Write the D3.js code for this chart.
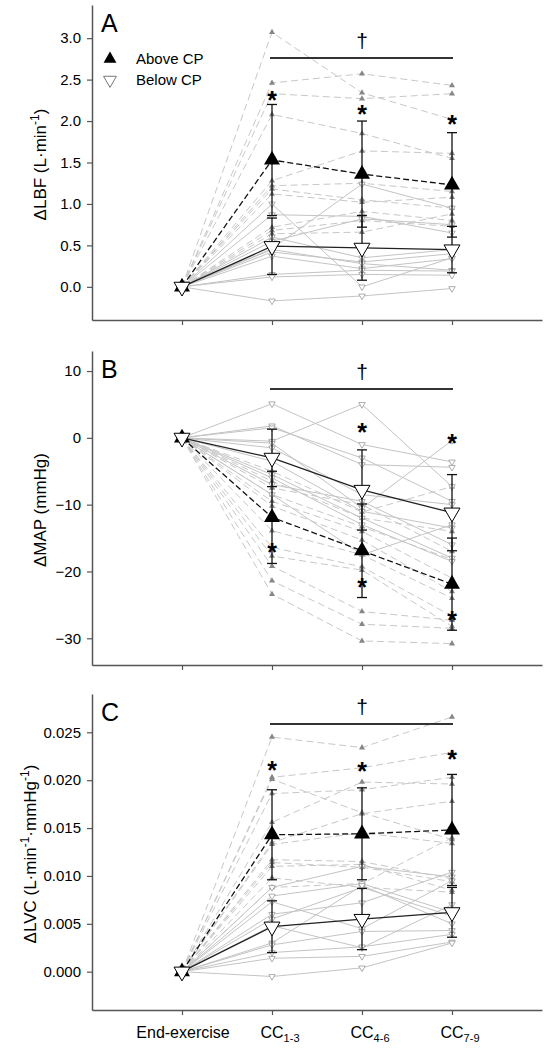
<!DOCTYPE html>
<html><head><meta charset="utf-8">
<script src="https://cdn.jsdelivr.net/npm/d3@7"></script>
<style>body{margin:0;background:#fff}svg{display:block}text{font-family:"Liberation Sans",Arial,sans-serif;fill:#000}</style>
</head><body><svg id="c" width="552" height="1050"></svg>
<script>
// ---------- data ----------
const categories = ["End-exercise", "CC", "CC", "CC"];
const categorySubs = ["", "1-3", "4-6", "7-9"];

// Panel A: ΔLBF
const lbfTicks = [0, 0.5, 1.0, 1.5, 2.0, 2.5, 3.0];
const lbfAboveMean = [0, 1.53, 1.36, 1.23];
const lbfAboveSD = [0, 0.67, 0.64, 0.63];
const lbfBelowMean = [0, 0.49, 0.47, 0.45];
const lbfBelowSD = [0, 0.34, 0.39, 0.28];
const lbfAbove = [
  [0, 3.07, 2.34, 2.02], [0, 2.46, 2.57, 2.43], [0, 2.33, 2.27, 2.33],
  [0, 2.08, 1.85, 1.55], [0, 1.28, 1.64, 1.61], [0, 1.22, 1.25, 1.15],
  [0, 1.18, 1.05, 0.95], [0, 1.12, 1.02, 1.08], [0, 0.72, 0.91, 0.80],
  [0, 0.68, 0.80, 0.73], [0, 0.64, 0.66, 0.88]
];
const lbfBelow = [
  [0, 1.00, 0.00, 0.35], [0, 0.46, 1.24, 0.95], [0, 0.87, 0.85, 0.65],
  [0, 0.55, 0.82, 0.75], [0, 0.60, 0.35, 0.45], [0, 0.42, 0.30, 0.40],
  [0, 0.45, 0.28, 0.20], [0, 0.37, 0.22, 0.34], [0, 0.15, 0.20, 0.19],
  [0, 0.12, 0.15, 0.14], [0, -0.17, -0.11, -0.02]
];
const lbfStars = [[1, 2.32], [2, 2.15], [3, 2.02]];

// Panel B: ΔMAP
const mapTicks = [-30, -20, -10, 0, 10];
const mapAboveMean = [0, -11.9, -16.9, -21.9];
const mapAboveSD = [0, 6.9, 7.0, 6.9];
const mapBelowMean = [0, -3.0, -7.8, -11.2];
const mapBelowSD = [0, 4.3, 6.0, 5.7];
const mapAbove = [
  [0, -5.0, -11.1, -7.3], [0, -6.5, -12.0, -14.0], [0, -7.5, -10.0, -17.0],
  [0, -8.5, -13.3, -18.2], [0, -9.5, -14.0, -21.0], [0, -10.2, -15.3, -23.0],
  [0, -13.9, -17.5, -24.0], [0, -16.4, -19.3, -26.7], [0, -17.7, -19.8, -28.2],
  [0, -19.2, -26.0, -27.3], [0, -21.4, -27.9, -28.5], [0, -23.4, -30.4, -30.8]
];
const mapBelow = [
  [0, 5.1, -1.0, -3.6], [0, -0.5, 5.0, -7.3], [0, 1.8, -4.0, -4.4],
  [0, 1.5, -3.0, -9.5], [0, -0.8, -10.5, -0.4], [0, -1.5, -8.5, -10.0],
  [0, -3.5, -11.0, -13.5], [0, -5.5, -12.0, -18.0], [0, -6.0, -13.0, -18.5],
  [0, -7.0, -9.5, -16.0], [0, -8.5, -17.5, -13.0]
];
const mapStars = [[1, -16.3], [2, 1.6], [2, -21.6], [3, 0.0], [3, -26.5]];

// Panel C: ΔLVC
const lvcTicks = [0, 0.005, 0.010, 0.015, 0.020, 0.025];
const lvcAboveMean = [0, 0.0143, 0.0144, 0.0148];
const lvcAboveSD = [0, 0.0047, 0.0048, 0.0058];
const lvcBelowMean = [0, 0.0047, 0.0055, 0.0062];
const lvcBelowSD = [0, 0.0027, 0.0032, 0.0026];
const lvcAbove = [
  [0, 0.0245, 0.0234, 0.0266], [0, 0.0203, 0.0213, 0.0229], [0, 0.0201, 0.0166, 0.0138],
  [0, 0.0186, 0.0190, 0.0203], [0, 0.0156, 0.0198, 0.0196], [0, 0.0135, 0.0165, 0.0178],
  [0, 0.0133, 0.0145, 0.0134], [0, 0.0117, 0.0115, 0.0097], [0, 0.0114, 0.0109, 0.0094],
  [0, 0.0110, 0.0112, 0.0085], [0, 0.0098, 0.0088, 0.0083], [0, 0.0088, 0.0092, 0.0140]
];
const lvcBelow = [
  [0, 0.0088, 0.0110, 0.0099], [0, 0.0079, 0.0092, 0.0062], [0, 0.0073, 0.0045, 0.0095],
  [0, 0.0060, 0.0072, 0.0104], [0, 0.0055, 0.0088, 0.0058], [0, 0.0048, 0.0025, 0.0070],
  [0, 0.0030, 0.0090, 0.0050], [0, 0.0028, 0.0042, 0.0043], [0, 0.0020, 0.0026, 0.0039],
  [0, 0.0014, 0.0016, 0.0031], [0, -0.0005, 0.0004, 0.0030]
];
const lvcStars = [[1, 0.0216], [2, 0.0215], [3, 0.0227]];

const legendLabels = ["Above CP", "Below CP"];

// ---------- drawing ----------
const svg = d3.select("#c");
const x = d3.scaleLinear().domain([-1, 4]).range([92, 542]);
const AX = "#555";

const panels = [
  {letter: "A", top: 5, bottom: 320, barY: 58, domain: [-0.4, 3.4], ticks: lbfTicks, fmt: d3.format(".1f"),
   above: lbfAbove, below: lbfBelow, am: lbfAboveMean, asd: lbfAboveSD, bm: lbfBelowMean, bsd: lbfBelowSD,
   stars: lbfStars, title: [["ΔLBF (L·min", 0], ["-1", 1], [")", 0]], titleX: 46, legend: true, xLabels: false},
  {letter: "B", top: 351, bottom: 665, barY: 389, domain: [-34, 13], ticks: mapTicks, fmt: d3.format("d"),
   above: mapAbove, below: mapBelow, am: mapAboveMean, asd: mapAboveSD, bm: mapBelowMean, bsd: mapBelowSD,
   stars: mapStars, title: [["ΔMAP (mmHg)", 0]], titleX: 46, legend: false, xLabels: false},
  {letter: "C", top: 694, bottom: 1010, barY: 724, domain: [-0.004, 0.029], ticks: lvcTicks, fmt: d3.format(".3f"),
   above: lvcAbove, below: lvcBelow, am: lvcAboveMean, asd: lvcAboveSD, bm: lvcBelowMean, bsd: lvcBelowSD,
   stars: lvcStars, title: [["ΔLVC (L·min", 0], ["-1", 1], ["·mmHg", 0], ["-1", 1], [")", 0]], titleX: 36, legend: false, xLabels: true}
];

const tri = (s) => d3.symbol(d3.symbolTriangle, s)();

panels.forEach(p => {
  const y = d3.scaleLinear().domain(p.domain).range([p.bottom, p.top]);
  const g = svg.append("g");

  // axes
  const ya = g.append("g").attr("transform", `translate(${x(-1)},0)`)
    .call(d3.axisLeft(y).tickValues(p.ticks).tickFormat(p.fmt).tickSize(5).tickSizeOuter(0).tickPadding(6));
  ya.select(".domain").attr("stroke", AX).attr("stroke-width", 1.5);
  ya.selectAll(".tick line").attr("stroke", AX).attr("stroke-width", 1.2);
  ya.selectAll(".tick text").attr("font-size", 15).attr("font-family", "Liberation Sans, Arial, sans-serif").attr("fill", "#000");

  const xa = g.append("g").attr("transform", `translate(0,${p.bottom})`)
    .call(d3.axisBottom(x).tickValues([0, 1, 2, 3]).tickSize(5).tickSizeOuter(0).tickFormat(""));
  xa.select(".domain").attr("stroke", AX).attr("stroke-width", 1.5);
  xa.selectAll(".tick line").attr("stroke", AX).attr("stroke-width", 1.2);

  if (p.xLabels) {
    categories.forEach((c, i) => {
      if (i === 0) {
        g.append("text").attr("x", x(i) + 1).attr("y", 1038).attr("text-anchor", "middle")
          .attr("font-size", 16).text(c);
      } else {
        const t = g.append("text").attr("x", x(i) - 11.5).attr("y", 1038).attr("font-size", 16);
        t.append("tspan").text(c);
        t.append("tspan").attr("font-size", 11).attr("dy", 4).text(categorySubs[i]);
      }
    });
  }

  // y title
  const cy = (p.top + p.bottom) / 2 + 2;
  const tt = g.append("text").attr("transform", `translate(${p.titleX},${cy}) rotate(-90)`)
    .attr("text-anchor", "middle").attr("font-size", 17);
  let prevSup = 0;
  p.title.forEach(([s, sup]) => {
    const ts = tt.append("tspan").text(s);
    if (sup && !prevSup) ts.attr("font-size", 12).attr("dy", -7);
    else if (!sup && prevSup) ts.attr("dy", 7);
    prevSup = sup;
  });

  // panel letter
  g.append("text").attr("x", 101).attr("y", p.top + 27).attr("font-size", 25).text(p.letter);

  const line = d3.line().x((d, i) => x(i)).y(d => y(d));

  // individual lines
  g.append("g").selectAll("path").data(p.below).join("path")
    .attr("d", line).attr("fill", "none").attr("stroke", "#c4c4c4").attr("stroke-width", 1);
  g.append("g").selectAll("path").data(p.above).join("path")
    .attr("d", line).attr("fill", "none").attr("stroke", "#c8c8c8").attr("stroke-width", 1)
    .attr("stroke-dasharray", "7,4");

  // individual points
  p.above.forEach(s => s.forEach((v, i) => {
    if (i === 0) return;
    g.append("path").attr("d", tri(16)).attr("transform", `translate(${x(i)},${y(v)})`)
      .attr("fill", "#878787");
  }));
  p.below.forEach(s => s.forEach((v, i) => {
    if (i === 0) return;
    g.append("path").attr("d", tri(18)).attr("transform", `translate(${x(i)},${y(v)}) rotate(180)`)
      .attr("fill", "#fff").attr("stroke", "#999").attr("stroke-width", 0.8);
  }));

  // error bars
  const eb = (m, sd) => m.forEach((v, i) => {
    if (i === 0) return;
    const xi = x(i), y1 = y(v + sd[i]), y2 = y(v - sd[i]);
    g.append("line").attr("x1", xi).attr("x2", xi).attr("y1", y1).attr("y2", y2).attr("stroke", "#111").attr("stroke-width", 1.3);
    [y1, y2].forEach(yy => g.append("line").attr("x1", xi - 5).attr("x2", xi + 5).attr("y1", yy).attr("y2", yy)
      .attr("stroke", "#111").attr("stroke-width", 1.3));
  });
  eb(p.bm, p.bsd);
  eb(p.am, p.asd);

  // mean lines
  g.append("path").datum(p.bm).attr("d", line).attr("fill", "none")
    .attr("stroke", "#222").attr("stroke-width", 1.3);
  g.append("path").datum(p.am).attr("d", line).attr("fill", "none")
    .attr("stroke", "#111").attr("stroke-width", 1.3).attr("stroke-dasharray", "6,3");

  // mean markers
  p.am.forEach((v, i) => g.append("path").attr("d", tri(110))
    .attr("transform", `translate(${x(i)},${y(v)})`).attr("fill", "#000"));
  p.bm.forEach((v, i) => g.append("path").attr("d", tri(110))
    .attr("transform", `translate(${x(i)},${y(v)}) rotate(180)`).attr("fill", "#fff")
    .attr("stroke", "#000").attr("stroke-width", 1));

  // asterisks
  p.stars.forEach(([i, v]) => g.append("text").attr("x", x(i)).attr("y", y(v) + 14)
    .attr("text-anchor", "middle").attr("font-size", 25).attr("font-weight", "bold").text("*"));

  // significance bar + dagger
  const by = p.barY;
  g.append("line").attr("x1", x(1) - 2).attr("x2", x(3) + 1).attr("y1", by).attr("y2", by)
    .attr("stroke", "#333").attr("stroke-width", 2);
  g.append("text").attr("x", x(2)).attr("y", by - 10).attr("text-anchor", "middle")
    .attr("font-size", 21).text("†");

  // legend
  if (p.legend) {
    g.append("path").attr("d", tri(72)).attr("transform", "translate(110,59)").attr("fill", "#000");
    g.append("path").attr("d", tri(72)).attr("transform", "translate(110,80) rotate(180)")
      .attr("fill", "#fff").attr("stroke", "#777").attr("stroke-width", 1);
    g.append("text").attr("x", 136).attr("y", 64).attr("font-size", 15).text(legendLabels[0]);
    g.append("text").attr("x", 136).attr("y", 85).attr("font-size", 15).text(legendLabels[1]);
  }
});
</script></body></html>
